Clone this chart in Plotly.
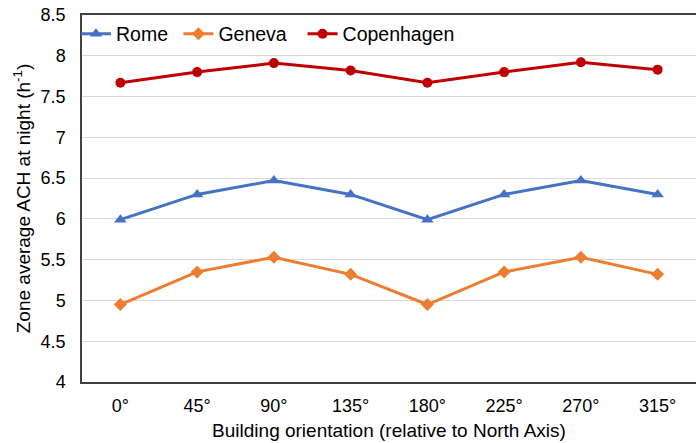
import plotly.graph_objects as go

orientations = ["0°", "45°", "90°", "135°", "180°", "225°", "270°", "315°"]
rome = [5.99, 6.30, 6.47, 6.30, 5.99, 6.30, 6.47, 6.30]
geneva = [4.95, 5.35, 5.53, 5.32, 4.95, 5.35, 5.53, 5.32]
copenhagen = [7.67, 7.80, 7.91, 7.82, 7.67, 7.80, 7.92, 7.83]

FONT = "Liberation Sans, Arial, sans-serif"

fig = go.Figure()
fig.add_trace(go.Scatter(x=orientations, y=rome, name="Rome ", mode="lines+markers",
                         line=dict(color="#4472C4", width=3),
                         marker=dict(symbol="triangle-up", size=11, color="#4472C4")))
fig.add_trace(go.Scatter(x=orientations, y=geneva, name="Geneva  ", mode="lines+markers",
                         line=dict(color="#ED7D31", width=3),
                         marker=dict(symbol="diamond", size=10, color="#ED7D31")))
fig.add_trace(go.Scatter(x=orientations, y=copenhagen, name="Copenhagen", mode="lines+markers",
                         line=dict(color="#C00000", width=3),
                         marker=dict(symbol="circle", size=10, color="#C00000")))

fig.update_layout(
    width=696, height=443,
    margin=dict(l=82, r=0, t=15, b=61),
    plot_bgcolor="white", paper_bgcolor="white",
    font=dict(family=FONT, size=18, color="#000000"),
    legend=dict(orientation="h", x=-0.0098, xanchor="left", y=1.001, yanchor="top",
                bgcolor="rgba(0,0,0,0)", font=dict(size=19.5),
                itemwidth=30, tracegroupgap=0),
    xaxis=dict(
        range=[-0.5, 7.5], showline=True, mirror=True, linecolor="#404040", linewidth=1.5,
        showgrid=False, ticks="", tickfont=dict(size=18), automargin=False,
        ticklabelstandoff=7,
        title=dict(text="Building orientation (relative to North Axis)", font=dict(size=19), standoff=8),
    ),
    yaxis=dict(
        range=[4, 8.5], dtick=0.5, tick0=4, showline=True, mirror=False, linecolor="#404040",
        linewidth=1.5, showgrid=True, gridcolor="#D9D9D9", gridwidth=1, zeroline=False,
        ticks="", ticklabelstandoff=11, tickfont=dict(size=18), automargin=False,
        title=dict(text="Zone average ACH at night (h<sup>-1</sup>)", font=dict(size=19), standoff=5),
    ),
)

fig.write_html("out.html", config={"displayModeBar": False},
               post_script="document.body.style.margin='0';")
